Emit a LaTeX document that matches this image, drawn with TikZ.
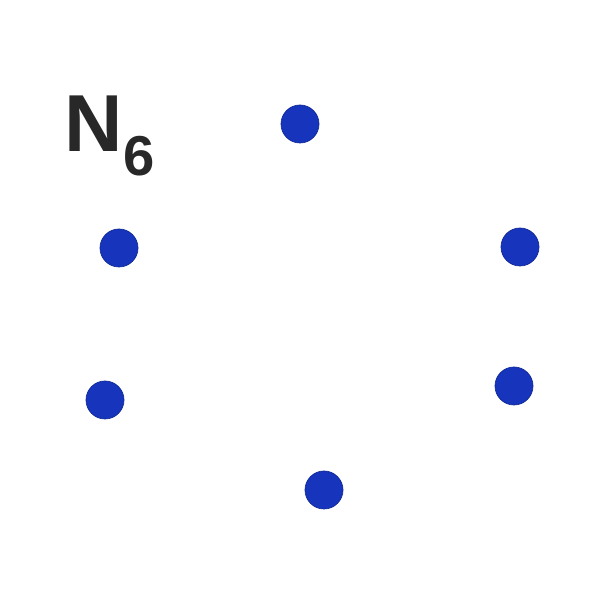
\documentclass[tikz,border=0pt]{standalone}
\usepackage{fontspec}
\setmainfont{Liberation Sans}
\usepackage{tikz}
\usetikzlibrary{positioning}
\definecolor{dotblue}{RGB}{22,52,188}
\definecolor{inkgray}{RGB}{40,40,40}

\begin{document}
\begin{tikzpicture}[
						vertex/.style={circle, fill=dotblue, draw=dotblue!80!black, minimum size=0.76cm, inner sep=0pt},
						title/.style={text=inkgray, font=\bfseries\fontsize{46}{48}\selectfont}]
						
						\useasboundingbox (0,0) rectangle (12,11.84);
						
						\node[title] (name) at (2.2,9.12) {N\textsubscript{\fontsize{32}{34}\selectfont 6}};
						
						\node[vertex] (v1) at (6.0,9.36) {};
						\node[vertex] (v2) at (2.38,6.88) {};
						\node[vertex] (v3) at (10.4,6.9) {};
						\node[vertex] (v4) at (2.1,3.84) {};
						\node[vertex] (v5) at (10.28,4.12) {};
						\node[vertex] (v6) at (6.48,2.04) {};
					\end{tikzpicture}
\end{document}
